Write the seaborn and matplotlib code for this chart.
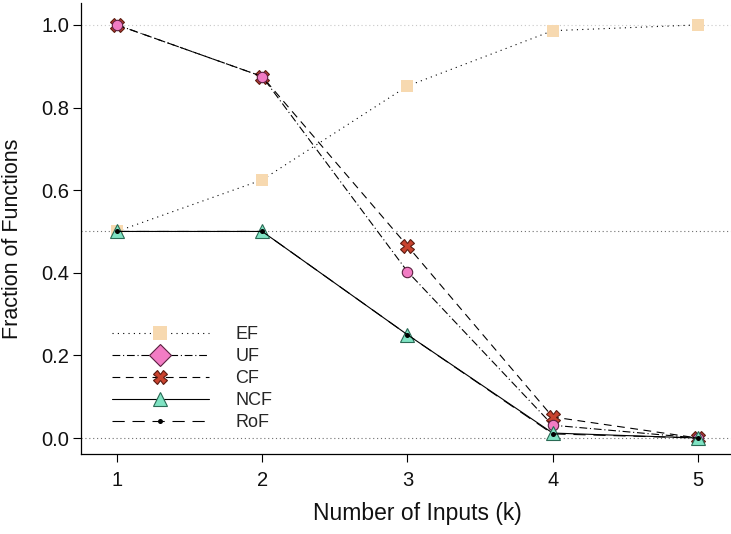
import numpy as np
import pandas as pd
import matplotlib
matplotlib.use("Agg")
import matplotlib.pyplot as plt
from matplotlib.lines import Line2D
import seaborn as sns

# values
k = [1, 2, 3, 4, 5]
ef = [0.5, 0.625, 0.852, 0.986, 1.0]
uf = [1.0, 0.875, 0.403, 0.031, 0.0]
cf = [1.0, 0.875, 0.465, 0.051, 0.0]
ncf = [0.5, 0.5, 0.25, 0.012, 0.0]
rof = [0.5, 0.5, 0.25, 0.010, 0.0]
labels = ["EF", "UF", "CF", "NCF", "RoF"]
y_ticks = [0.0, 0.2, 0.4, 0.6, 0.8, 1.0]

sns.set_style("ticks")
plt.rcParams['font.family'] = ['Liberation Sans', 'DejaVu Sans']

fig = plt.figure(figsize=(7.31, 5.34), dpi=100)
ax = fig.add_axes([80.7 / 731, 80 / 534, (731 - 80.7) / 731, 451 / 534])

# reference lines
ax.axhline(0.0, color='#707070', lw=0.8, ls=(0, (1, 2.5)), zorder=0)
ax.axhline(0.5, color='#707070', lw=0.8, ls=(0, (1, 2.5)), zorder=0)
ax.axhline(1.0, color='#c8c8c8', lw=0.8, ls=(0, (1, 2.5)), zorder=0)

# styles per series
st = {
    "EF": dict(ls=(0, (1, 3.8)), marker='s', ms=9, mfc='#f7d9b0', mec='#f7d9b0', mew=0),
    "UF": dict(ls=(0, (7, 2.5, 1, 2.5)), marker='o', ms=7.5, mfc='#f27cc4', mec='#5a2040', mew=0.8),
    "CF": dict(ls=(0, (7, 5)), marker='X', ms=10, mfc='#c9432f', mec='#5a1a10', mew=0.8),
    "NCF": dict(ls='-', marker='^', ms=10, mfc='#7fe3c3', mec='#2a6a55', mew=0.8),
    "RoF": dict(ls=(0, (11, 7)), marker='o', ms=3.6, mfc='black', mec='black', mew=0),
}

order = [("EF", ef), ("CF", cf), ("UF", uf), ("NCF", ncf), ("RoF", rof)]
for z, (name, vals) in enumerate(order):
    s = st[name]
    sns.lineplot(x=k, y=vals, ax=ax, color='black', lw=0.8, linestyle=s['ls'],
                 marker=s['marker'], markersize=s['ms'], markerfacecolor=s['mfc'],
                 markeredgecolor=s['mec'], markeredgewidth=s['mew'],
                 errorbar=None, legend=False, zorder=2 + z)

ax.set_xlim(0.75, 5.228)
ax.set_ylim(-0.0387, 1.053)
ax.set_xticks(k)
ax.set_yticks(y_ticks)
ax.set_yticklabels([f"{v:.1f}" for v in y_ticks])
ax.tick_params(axis='both', direction='out', length=5.5, width=0.8, color='black',
               labelsize=14.5, labelcolor='#111111')
ax.tick_params(axis='x', pad=7)
ax.tick_params(axis='y', pad=3)
for side in ['top', 'right']:
    ax.spines[side].set_visible(False)
for side in ['left', 'bottom']:
    ax.spines[side].set_color('black')
    ax.spines[side].set_linewidth(0.9)

ax.set_xlabel("Number of Inputs (k)", fontsize=16.5, color='#111111')
ax.set_ylabel("Fraction of Functions", fontsize=15.5, color='#111111')
ax.xaxis.set_label_coords(0.518, -0.131)
ax.xaxis.label.set_va('center')
ax.yaxis.set_label_coords(-0.1056, 0.477)
ax.yaxis.label.set_va('center')

# legend handles (UF shown as a diamond in the key)
handles = []
for name in labels:
    s = dict(st[name])
    if name == "UF":
        s['marker'] = 'D'
        s['ms'] = 11
    if name == "EF":
        s['ms'] = 10
    handles.append(Line2D([], [], color='black', lw=0.8, linestyle=s['ls'], marker=s['marker'],
                          markersize=s['ms'], markerfacecolor=s['mfc'],
                          markeredgecolor=s['mec'], markeredgewidth=s['mew']))
ax.legend(handles, labels, loc='center left', bbox_to_anchor=(111.7 / 731, 1 - 378.7 / 534),
          bbox_transform=fig.transFigure, frameon=False, fontsize=13, handlelength=5.4,
          handletextpad=1.45, labelspacing=0.28, borderpad=0, borderaxespad=0)

fig.savefig("out.png", dpi=100)
